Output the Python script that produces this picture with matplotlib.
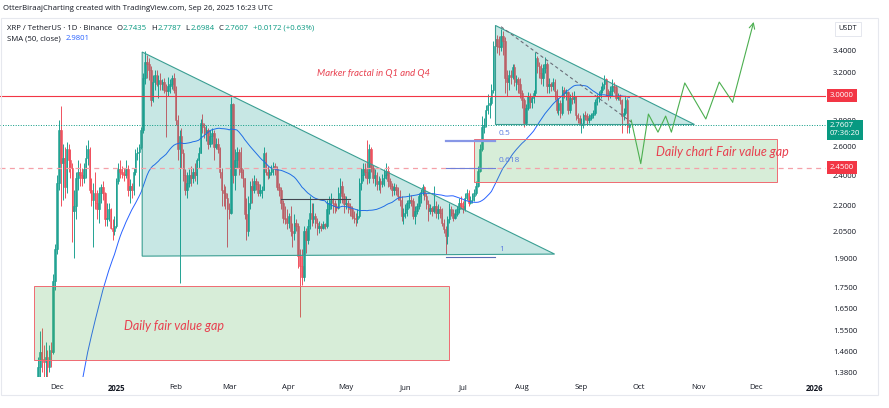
import numpy as np
import pandas as pd
import matplotlib
matplotlib.use('Agg')
import matplotlib.pyplot as plt
import matplotlib.dates as mdates
import matplotlib.transforms as mtrans
from matplotlib.patches import Polygon, Rectangle
from matplotlib.ticker import FixedLocator, FixedFormatter, NullLocator

plt.rcParams['font.family'] = ['Open Sans', 'DejaVu Sans']

# closes Oct 2 .. Nov 20 2024, only used so the SMA(50) has history
warmup_close = [0.53, 0.52, 0.53, 0.53, 0.54, 0.53, 0.53, 0.53, 0.53, 0.54,
                0.54, 0.54, 0.55, 0.54, 0.55, 0.55, 0.55, 0.55, 0.55, 0.55,
                0.54, 0.52, 0.52, 0.51, 0.52, 0.52, 0.52, 0.52, 0.52, 0.51,
                0.51, 0.51, 0.50, 0.50, 0.51, 0.55, 0.55, 0.56, 0.60, 0.63,
                0.71, 0.65, 0.73, 0.80, 0.98, 1.12, 1.06, 1.12, 1.07, 1.10]

# daily XRP/USDT candles, Nov 21 2024 .. Sep 26 2025 (open = previous close)
first_day = '2024-11-21'
first_open = 1.10
close = [
    1.40, 1.46, 1.43, 1.42, 1.44, 1.40, 1.47, 1.46, 1.78, 1.95,  # nov
    2.35, 2.72, 2.48, 2.52, 2.32, 2.58, 2.50, 2.45, 2.17, 2.20, 2.38, 2.42, 2.40, 2.38, 2.44, 2.52,
    2.58, 2.30, 2.24, 2.28, 2.22, 2.18, 2.28, 2.32, 2.28, 2.12, 2.13, 2.18, 2.07, 2.05, 2.08,  # dec
    2.36, 2.44, 2.42, 2.41, 2.40, 2.44, 2.30, 2.33, 2.30, 2.42, 2.55, 2.56, 2.60, 2.72, 3.15, 3.30,
    3.28, 3.22, 2.96, 3.12, 3.18, 3.10, 3.13, 3.10, 3.12, 3.05, 3.04, 3.08, 3.10, 3.15, 3.05,  # jan
    2.80, 2.58, 2.68, 2.55, 2.40, 2.30, 2.35, 2.40, 2.38, 2.42, 2.40, 2.50, 2.55, 2.78, 2.75, 2.70,
    2.72, 2.62, 2.68, 2.70, 2.60, 2.62, 2.58, 2.42, 2.30, 2.28, 2.25, 2.18,  # feb
    2.16, 2.93, 2.40, 2.50, 2.56, 2.45, 2.42, 2.38, 2.15, 2.05, 2.22, 2.33, 2.30, 2.36, 2.34, 2.28,
    2.30, 2.30, 2.55, 2.42, 2.40, 2.42, 2.45, 2.46, 2.44, 2.32, 2.30, 2.22, 2.13, 2.12, 2.10,  # mar
    2.14, 2.05, 2.04, 2.10, 2.08, 1.91, 1.86, 1.80, 2.05, 2.00, 2.08, 2.16, 2.12, 2.14, 2.10, 2.07,
    2.08, 2.07, 2.09, 2.08, 2.18, 2.22, 2.24, 2.22, 2.20, 2.19, 2.28, 2.33, 2.26, 2.21,  # apr
    2.22, 2.20, 2.18, 2.14, 2.13, 2.12, 2.14, 2.35, 2.40, 2.44, 2.42, 2.38, 2.58, 2.45, 2.38, 2.40,
    2.34, 2.36, 2.34, 2.38, 2.40, 2.43, 2.36, 2.33, 2.30, 2.32, 2.30, 2.26, 2.24, 2.14, 2.16,  # may
    2.18, 2.22, 2.24, 2.23, 2.14, 2.17, 2.20, 2.26, 2.29, 2.32, 2.26, 2.21, 2.17, 2.19, 2.17, 2.20,
    2.16, 2.18, 2.16, 2.10, 2.06, 2.02, 2.12, 2.18, 2.16, 2.13, 2.15, 2.18, 2.22, 2.20,  # jun
    2.18, 2.25, 2.28, 2.22, 2.24, 2.26, 2.28, 2.33, 2.43, 2.58, 2.75, 2.76, 2.88, 2.92, 2.94, 3.05,
    3.45, 3.52, 3.45, 3.44, 3.55, 3.50, 3.15, 3.12, 3.18, 3.16, 3.25, 3.12, 3.14, 3.10, 3.02,  # jul
    2.96, 2.78, 2.90, 3.00, 2.95, 2.98, 3.02, 3.33, 3.26, 3.20, 3.15, 3.24, 3.28, 3.08, 3.10, 3.08,
    3.12, 3.04, 2.88, 2.94, 2.86, 3.05, 3.02, 3.03, 2.88, 2.98, 2.97, 3.00, 2.84, 2.82, 2.78,  # aug
    2.78, 2.84, 2.83, 2.80, 2.82, 2.84, 2.86, 2.95, 2.98, 3.00, 3.05, 3.10, 3.14, 3.02, 3.00, 3.04,
    3.08, 3.07, 2.98, 2.99, 2.96, 2.83, 2.86, 2.96, 2.7435, 2.7607,  # sep
]
high = [
    1.44, 1.55, 1.56, 1.49, 1.50, 1.47, 1.49, 1.50, 1.82, 1.98,
    2.40, 2.80, 2.91, 2.62, 2.60, 2.63, 2.62, 2.58, 2.48, 2.30, 2.42, 2.50, 2.48, 2.45, 2.48, 2.61,
    2.65, 2.60, 2.38, 2.35, 2.42, 2.30, 2.32, 2.34, 2.36, 2.29, 2.22, 2.22, 2.19, 2.12, 2.14,
    2.38, 2.48, 2.50, 2.46, 2.45, 2.50, 2.47, 2.37, 2.35, 2.45, 2.58, 2.60, 2.62, 2.75, 3.20, 3.40,
    3.36, 3.33, 3.26, 3.18, 3.22, 3.22, 3.18, 3.20, 3.14, 3.15, 3.10, 3.16, 3.14, 3.18, 3.20,
    3.08, 2.84, 2.72, 2.74, 2.58, 2.44, 2.42, 2.44, 2.46, 2.45, 2.48, 2.52, 2.60, 2.81, 2.85, 2.78,
    2.76, 2.74, 2.72, 2.74, 2.72, 2.66, 2.66, 2.60, 2.45, 2.34, 2.33, 2.28,
    2.22, 2.99, 2.94, 2.58, 2.60, 2.58, 2.60, 2.44, 2.38, 2.25, 2.26, 2.36, 2.38, 2.40, 2.38, 2.36,
    2.34, 2.33, 2.60, 2.56, 2.46, 2.44, 2.47, 2.49, 2.48, 2.46, 2.35, 2.32, 2.24, 2.20, 2.18,
    2.16, 2.20, 2.10, 2.15, 2.12, 2.10, 1.95, 1.95, 2.08, 2.07, 2.12, 2.26, 2.22, 2.22, 2.16, 2.13,
    2.11, 2.10, 2.11, 2.10, 2.24, 2.26, 2.28, 2.25, 2.24, 2.22, 2.32, 2.38, 2.36, 2.28,
    2.26, 2.24, 2.22, 2.20, 2.17, 2.16, 2.18, 2.38, 2.45, 2.48, 2.48, 2.65, 2.62, 2.60, 2.47, 2.44,
    2.42, 2.39, 2.38, 2.41, 2.44, 2.48, 2.46, 2.38, 2.35, 2.35, 2.34, 2.32, 2.30, 2.26, 2.19,
    2.21, 2.24, 2.28, 2.27, 2.25, 2.20, 2.22, 2.28, 2.31, 2.34, 2.33, 2.28, 2.24, 2.21, 2.20, 2.33,
    2.23, 2.21, 2.20, 2.19, 2.12, 2.08, 2.14, 2.22, 2.20, 2.18, 2.18, 2.20, 2.25, 2.26,
    2.23, 2.28, 2.31, 2.30, 2.26, 2.28, 2.31, 2.36, 2.46, 2.62, 2.83, 2.82, 2.92, 3.01, 2.99, 3.10,
    3.50, 3.66, 3.56, 3.55, 3.62, 3.60, 3.54, 3.22, 3.22, 3.22, 3.28, 3.28, 3.18, 3.16, 3.15,
    3.05, 2.98, 2.93, 3.03, 3.02, 3.00, 3.05, 3.39, 3.35, 3.30, 3.28, 3.28, 3.34, 3.30, 3.15, 3.12,
    3.15, 3.14, 3.06, 2.98, 2.96, 3.08, 3.07, 3.06, 3.04, 3.01, 3.03, 3.04, 3.00, 2.86, 2.84,
    2.82, 2.86, 2.87, 2.86, 2.85, 2.86, 2.88, 2.97, 3.01, 3.04, 3.08, 3.12, 3.18, 3.15, 3.06, 3.08,
    3.14, 3.12, 3.09, 3.02, 3.01, 2.97, 2.90, 3.00, 2.98, 2.7787,
]
low = [
    1.08, 1.36, 1.38, 1.36, 1.35, 1.33, 1.38, 1.40, 1.45, 1.74,
    1.92, 2.30, 2.20, 2.24, 2.25, 2.28, 2.42, 2.38, 1.99, 1.90, 2.12, 2.30, 2.33, 2.33, 2.35, 2.38,
    2.47, 2.28, 2.20, 1.96, 2.18, 2.12, 2.10, 2.22, 2.24, 2.08, 2.08, 2.11, 2.06, 2.00, 2.03,
    2.07, 2.34, 2.38, 2.38, 2.36, 2.38, 2.26, 2.22, 2.25, 2.27, 2.40, 2.50, 2.33, 2.58, 2.70, 3.10,
    3.15, 3.13, 2.91, 2.95, 3.05, 3.08, 2.98, 3.05, 3.05, 3.02, 2.67, 3.00, 3.02, 3.06, 3.02,
    2.76, 2.50, 1.77, 2.45, 2.36, 2.27, 2.25, 2.32, 2.33, 2.35, 2.36, 2.34, 2.45, 2.55, 2.70, 2.66,
    2.64, 2.58, 2.60, 2.62, 2.50, 2.58, 2.55, 2.38, 2.20, 2.20, 2.18, 1.96,
    2.12, 2.15, 2.35, 2.30, 2.45, 2.40, 2.38, 2.32, 2.12, 2.00, 2.02, 2.18, 2.22, 2.28, 2.30, 2.26,
    2.26, 2.25, 2.30, 2.40, 2.37, 2.38, 2.40, 2.40, 2.40, 2.30, 2.26, 2.18, 2.10, 2.09, 2.06,
    2.07, 2.02, 1.96, 2.00, 2.05, 1.85, 1.61, 1.76, 1.78, 1.93, 1.98, 2.06, 2.08, 2.10, 2.07, 2.03,
    2.04, 2.05, 2.06, 2.06, 2.07, 2.15, 2.18, 2.16, 2.16, 2.17, 2.18, 2.22, 2.22, 2.16,
    2.18, 2.16, 2.14, 2.12, 2.10, 2.08, 2.10, 2.13, 2.30, 2.36, 2.38, 2.34, 2.35, 2.42, 2.35, 2.33,
    2.30, 2.30, 2.28, 2.32, 2.33, 2.37, 2.32, 2.31, 2.26, 2.27, 2.27, 2.24, 2.20, 2.11, 2.09,
    2.13, 2.14, 2.19, 2.20, 2.12, 2.09, 2.15, 2.18, 2.22, 2.27, 2.24, 2.18, 2.11, 2.15, 2.14, 2.16,
    2.13, 2.12, 2.13, 2.08, 2.04, 1.92, 1.98, 2.10, 2.14, 2.11, 2.12, 2.14, 2.16, 2.18,
    2.16, 2.17, 2.24, 2.20, 2.21, 2.22, 2.23, 2.27, 2.32, 2.42, 2.57, 2.70, 2.75, 2.85, 2.82, 2.92,
    3.02, 3.36, 3.38, 3.36, 3.40, 3.36, 3.02, 3.00, 3.05, 3.10, 3.14, 3.08, 3.05, 3.02, 2.98,
    2.90, 2.75, 2.76, 2.88, 2.90, 2.90, 2.94, 3.00, 3.20, 3.15, 3.10, 3.08, 3.20, 3.02, 3.02, 3.04,
    3.05, 2.96, 2.86, 2.84, 2.82, 2.84, 2.98, 2.96, 2.85, 2.86, 2.93, 2.94, 2.80, 2.78, 2.76,
    2.70, 2.74, 2.80, 2.77, 2.78, 2.80, 2.82, 2.84, 2.92, 2.95, 2.98, 3.02, 3.06, 3.00, 2.96, 2.98,
    3.00, 3.02, 2.96, 2.96, 2.93, 2.70, 2.80, 2.84, 2.70, 2.6984,
]

# price levels and drawings (date, price)
level_red = 3.0
level_last = 2.7607
level_dash = 2.45
tri1 = [('2025-01-14 12:00', 3.39), ('2025-01-14 12:00', 1.911), ('2025-08-18', 1.922)]
tri2 = [('2025-07-18', 3.66), ('2025-07-18', 2.77), ('2025-10-30', 2.77)]
tri2_dash = [('2025-07-21', 3.64), ('2025-09-27', 2.786)]
gray_seg = [('2025-03-28', 2.244), ('2025-05-03', 2.244)]
fvg_left = ('2024-11-19', '2025-06-24', 1.427, 1.757)
fvg_right = ('2025-07-07', '2025-12-12', 2.353, 2.655)
fib_span = ('2025-06-22', '2025-07-18')
fib_labels = ['0.5', '0.618', '1']
fib_prices = [2.640, 2.448, 1.906]
path_dates = ['2025-09-27', '2025-10-02', '2025-10-06', '2025-10-11', '2025-10-15', '2025-10-18',
              '2025-10-25', '2025-11-05', '2025-11-12', '2025-11-19', '2025-11-30']
path_prices = [2.80, 2.478, 2.848, 2.707, 2.832, 2.707, 3.108, 2.809, 3.116, 2.946, 3.689]

price_ticks = [1.38, 1.46, 1.55, 1.65, 1.75, 1.90, 2.05, 2.20, 2.40, 2.60, 2.80, 3.20, 3.40]

UP, DOWN = '#22a393', '#f0515e'
TXT = '#131722'
RED = '#f23645'
GREEN = '#089981'

df = pd.DataFrame({'close': close, 'high': high, 'low': low},
                  index=pd.date_range(first_day, periods=len(close), freq='D'))
df['open'] = [first_open] + close[:-1]
all_close = pd.Series(warmup_close + close)
df['sma'] = all_close.rolling(50).mean().iloc[len(warmup_close):].values

x = mdates.date2num(df.index)
up = df['close'] >= df['open']
colors = np.where(up, UP, DOWN)

fig = plt.figure(figsize=(8.89, 4.08), dpi=100)
ax = fig.add_axes([0.0, 1 - 377 / 408, 826 / 889, (377 - 18) / 408])
ax.set_yscale('log')

ax.vlines(x, df['low'], df['high'], color=colors, linewidth=0.7, zorder=2)
body_lo = np.minimum(df['open'], df['close'])
body_h = np.abs(df['close'] - df['open'])
ax.bar(x, body_h, bottom=body_lo, width=0.8, color=colors, edgecolor=colors,
       linewidth=0.4, zorder=2)
ax.plot(x, df['sma'], color='#2962ff', linewidth=0.7, zorder=3)

d = lambda s: mdates.date2num(pd.Timestamp(s))

# drawings
for tri in (tri1, tri2):
    ax.add_patch(Polygon([(d(t), p) for t, p in tri], closed=True,
                         facecolor=(0, 150 / 255, 136 / 255, 0.22), edgecolor='#3a9e92',
                         linewidth=0.8, zorder=4))
for x0, x1, p0, p1 in (fvg_left, fvg_right):
    ax.add_patch(Rectangle((d(x0), p0), d(x1) - d(x0), p1 - p0,
                           facecolor=(76 / 255, 175 / 255, 80 / 255, 0.22),
                           edgecolor='#f06a72', linewidth=0.7, zorder=4))

ax.plot([d(t) for t, _ in tri2_dash], [p for _, p in tri2_dash], color='#6a6d78',
        linewidth=0.8, linestyle=(0, (3, 2.5)), zorder=5)
ax.plot([d(t) for t, _ in gray_seg], [p for _, p in gray_seg], color='#434651',
        linewidth=0.8, zorder=5)

ax.axhline(level_red, color=RED, linewidth=0.8, zorder=5)
ax.axhline(level_last, color=GREEN, linewidth=0.7, linestyle=(0, (1, 1.6)), zorder=5)
ax.axhline(level_dash, color='#f5a0a8', linewidth=0.9, linestyle=(0, (4, 3.5)), zorder=5)

fib_w = [1.6, 0.8, 0.8]
fib_c = ['#8797e6', '#7180d8', '#5a6bb5']
for lab, p, w, c in zip(fib_labels, fib_prices, fib_w, fib_c):
    ax.plot([d(fib_span[0]), d(fib_span[1])], [p, p], color=c, linewidth=w, zorder=5)
    ax.annotate(lab, xy=(d('2025-07-20'), p), xytext=(0, 3), textcoords='offset points',
                color='#5b7be0', fontsize=6, ha='left', va='bottom', zorder=6)

px = [d(t) for t in path_dates]
ax.plot(px[:-1], path_prices[:-1], color='#4caf50', linewidth=0.8, zorder=5)
ax.annotate('', xy=(px[-1], path_prices[-1]), xytext=(px[-2], path_prices[-2]),
            arrowprops=dict(arrowstyle='->', color='#4caf50', linewidth=0.8,
                            shrinkA=0, shrinkB=0), zorder=5)

ax.text(d('2025-04-16'), 3.196, 'Marker fractal in Q1 and Q4', color='#e8404f',
        fontsize=6.8, style='italic', family='Lato', va='center', ha='left', zorder=6)
ax.text(d('2025-01-05'), 1.57, 'Daily fair value gap', color='#e8404f',
        fontsize=9, style='italic', family='Lato', va='center', ha='left', zorder=6)
ax.text(d('2025-10-10'), 2.56, 'Daily chart Fair value gap', color='#e8404f',
        fontsize=9, style='italic', family='Lato', va='center', ha='left', zorder=6)

# axes
ax.set_xlim(d('2024-11-01 05:00'), d('2026-01-06 19:00'))
ax.set_ylim(1.361, 3.73)
for s in ax.spines.values():
    s.set_visible(False)

ax.yaxis.tick_right()
ax.yaxis.set_major_locator(FixedLocator(price_ticks))
ax.yaxis.set_major_formatter(FixedFormatter(['%.4f' % v for v in price_ticks]))
ax.yaxis.set_minor_locator(NullLocator())
ax.tick_params(axis='y', length=0, pad=5, labelsize=5.6, labelcolor=TXT)

months = pd.date_range('2024-12-01', '2026-01-01', freq='MS')
mlabels = [m.strftime('%Y') if m.month == 1 else m.strftime('%b') for m in months]
ax.set_xticks(mdates.date2num(months))
ax.set_xticklabels(mlabels)
ax.xaxis.set_minor_locator(NullLocator())
ax.tick_params(axis='x', length=0, pad=5, labelsize=5.6, labelcolor=TXT)
for lab, m in zip(ax.get_xticklabels(), months):
    if m.month == 1:
        lab.set_fontweight('bold')

# price scale labels
blend = mtrans.blended_transform_factory(ax.transAxes, ax.transData)
for lvl, s in ((level_red, '3.0000'), (level_dash, '2.4500')):
    ax.text(1.0 + 4 / 826, lvl, s, transform=blend, color='white', fontsize=5.6,
            va='center', ha='left', zorder=7, clip_on=False,
            bbox=dict(boxstyle='square,pad=0.35', facecolor=RED, edgecolor='none'))
ax.annotate('2.7607\n07:36:20', xy=(1.0 + 4 / 826, level_last), xycoords=blend,
            xytext=(0, -3.2), textcoords='offset points', color='white', fontsize=5.6,
            va='center', ha='left', linespacing=1.1, zorder=7, annotation_clip=False,
            bbox=dict(boxstyle='square,pad=0.35', facecolor=GREEN, edgecolor='none'))

# header and legend, pieces laid out one after the other
renderer = fig.canvas.get_renderer()


def ftext(px_x, px_y, s, **kw):
    t = fig.text(px_x / 889, 1 - px_y / 408, s, va='center', ha='left', **kw)
    return t.get_window_extent(renderer).x1


ftext(3, 9, 'OtterBiraajCharting created with TradingView.com, Sep 26, 2025 16:23 UTC',
      fontsize=5.6, color=TXT)
row1 = [('XRP / TetherUS · 1D · Binance', TXT, 4), ('O', TXT, 0.5), ('2.7435', GREEN, 4.5),
        ('H', TXT, 0.5), ('2.7787', GREEN, 4.5), ('L', TXT, 0.5), ('2.6984', GREEN, 4.5),
        ('C', TXT, 0.5), ('2.7607', GREEN, 5), ('+0.0172 (+0.63%)', GREEN, 0)]
xx = 7
for s, c, gap in row1:
    xx = ftext(xx, 28, s, fontsize=5.6, color=c) + gap
xx = ftext(7, 39, 'SMA (50, close)', fontsize=5.6, color=TXT) + 5
ftext(xx, 39, '2.9801', fontsize=5.6, color='#2962ff')
fig.text(848 / 889, 1 - 29 / 408, 'USDT', fontsize=5.2, color=TXT, ha='center', va='center',
         bbox=dict(boxstyle='square,pad=0.5', facecolor='white', edgecolor='#e0e3eb',
                   linewidth=0.6))

fig.add_artist(Rectangle((1 / 889, 1 - 395 / 408), 877 / 889, 377 / 408,
                         transform=fig.transFigure, fill=False, edgecolor='#e6e8ee',
                         linewidth=0.8))

fig.savefig('out.png', dpi=100, facecolor='white')
